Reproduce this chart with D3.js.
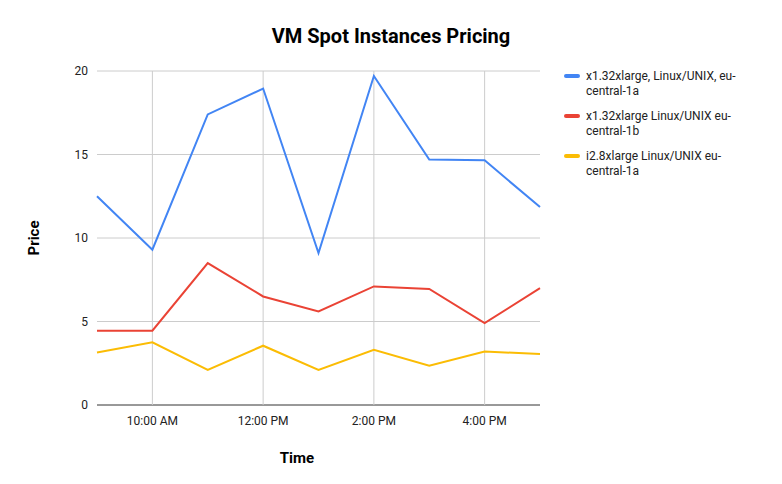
<!DOCTYPE html>
<html><head><meta charset="utf-8">
<script src="https://cdn.jsdelivr.net/npm/d3@7"></script>
<style>body{margin:0;background:#fff;font-family:Roboto,Arial,sans-serif}</style>
</head><body><div id="vis"></div>
<script>
// hours of the day, 9:00 to 17:00
let hours = [9, 10, 11, 12, 13, 14, 15, 16, 17];
let seriesNames = ['x1.32xlarge, Linux/UNIX, eu-central-1a', 'x1.32xlarge Linux/UNIX eu-central-1b', 'i2.8xlarge Linux/UNIX eu-central-1a'];
let blueValues = [12.5, 9.3, 17.4, 18.95, 9.1, 19.7, 14.7, 14.65, 11.85];
let redValues = [4.45, 4.45, 8.5, 6.5, 5.6, 7.1, 6.95, 4.9, 7.0];
let yellowValues = [3.15, 3.75, 2.1, 3.55, 2.1, 3.3, 2.35, 3.2, 3.05];
let colors = ['#4285f4', '#ea4335', '#fbbc04'];
let xTicks = [10, 12, 14, 16];
let xTickLabels = ['10:00 AM', '12:00 PM', '2:00 PM', '4:00 PM'];
let yTicks = [0, 5, 10, 15, 20];

let svg = d3.select('#vis').append('svg').attr('width', 782).attr('height', 484);

let x = d3.scaleLinear().domain([9, 17]).range([97, 540]);
let y = d3.scaleLinear().domain([0, 20]).range([405, 71]);

// grid
svg.append('g').selectAll('line').data(yTicks).join('line')
  .attr('x1', 97).attr('x2', 540).attr('y1', d => y(d)).attr('y2', d => y(d))
  .attr('stroke', d => d === 0 ? '#333' : '#ccc');
svg.append('g').selectAll('line').data(xTicks).join('line')
  .attr('x1', d => x(d)).attr('x2', d => x(d)).attr('y1', 71).attr('y2', 405)
  .attr('stroke', '#ccc');

svg.append('g').selectAll('text').data(yTicks).join('text')
  .attr('x', 88).attr('y', d => y(d) + 4).attr('text-anchor', 'end')
  .attr('font-size', 12).attr('fill', '#222').text(d => d);
svg.append('g').selectAll('text').data(xTicks).join('text')
  .attr('x', d => x(d)).attr('y', 425).attr('text-anchor', 'middle')
  .attr('font-size', 12).attr('fill', '#222').text((d, i) => xTickLabels[i]);

let line = d3.line().x((d, i) => x(hours[i])).y(d => y(d));
[blueValues, redValues, yellowValues].forEach((vals, i) => {
  svg.append('path').datum(vals).attr('d', line).attr('fill', 'none')
    .attr('stroke', colors[i]).attr('stroke-width', 2);
});

svg.append('text').attr('x', 391).attr('y', 43).attr('text-anchor', 'middle')
  .attr('font-size', 20).attr('font-weight', 'bold').text('VM Spot Instances Pricing');
svg.append('text').attr('x', 297).attr('y', 463).attr('text-anchor', 'middle')
  .attr('font-size', 15).attr('font-weight', 'bold').text('Time');
svg.append('text').attr('transform', 'translate(39,238) rotate(-90)').attr('text-anchor', 'middle')
  .attr('font-size', 15).attr('font-weight', 'bold').text('Price');

// legend
let legendLines = [['x1.32xlarge, Linux/UNIX, eu-', 'central-1a'], ['x1.32xlarge Linux/UNIX eu-', 'central-1b'], ['i2.8xlarge Linux/UNIX eu-', 'central-1a']];
legendLines.forEach((l, i) => {
  let ly = 80 + i * 40;
  svg.append('line').attr('x1', 566).attr('x2', 578).attr('y1', ly - 4).attr('y2', ly - 4)
    .attr('stroke', colors[i]).attr('stroke-width', 4).attr('stroke-linecap', 'round');
  l.forEach((t, j) => svg.append('text').attr('x', 586).attr('y', ly + j * 15)
    .attr('font-size', 12).attr('fill', '#222').text(t));
});
</script></body></html>
